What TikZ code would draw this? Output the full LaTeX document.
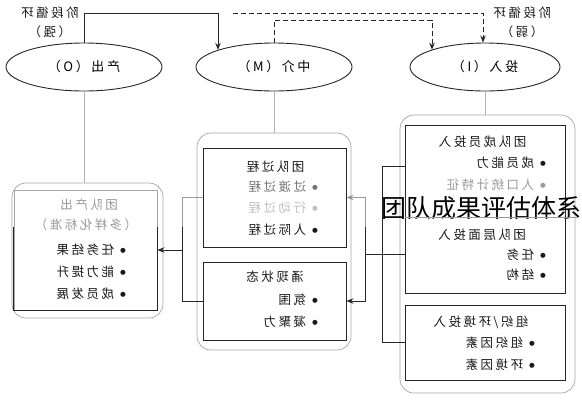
\documentclass[tikz,border=0pt]{standalone}
\usepackage{fontspec}
\usepackage{graphicx}
\usetikzlibrary{shapes.geometric,arrows.meta,calc}
\newfontfamily\cjk[LetterSpace=20]{Noto Sans CJK SC}
\newfontfamily\cjkov{Noto Sans CJK SC}
\newfontfamily\djvfont{DejaVu Sans}
\newcommand{\rt}[1]{\reflectbox{#1}}
\newcommand{\bl}{\raisebox{2.2pt}{\djvfont\fontsize{6.5}{7}\selectfont ●}\hspace{6pt}}
\tikzset{
 dk/.style={draw=black!85, line width=0.9pt},
 inbox/.style={dk, rectangle, inner sep=0pt},
 grp/.style={draw=black!35, line width=0.7pt, rounded corners=14pt, inner sep=0pt},
 oval/.style={ellipse, draw=black!85, line width=0.9pt, minimum width=156pt, minimum height=48pt, inner sep=0pt, font=\cjk\fontsize{13}{15}\selectfont},
 tx/.style={inner sep=0pt, font=\cjk\fontsize{12.5}{14}\selectfont, text=black!90},
 ltx/.style={tx, text=black!40},
 vltx/.style={tx, text=black!25},
 mltx/.style={tx, text=black!55},
 gl/.style={draw=black!30, line width=0.6pt},
 arr/.style={-{Stealth[length=7pt,width=5.5pt]}},
 dsh/.style={dash pattern=on 5pt off 3pt},
}
\begin{document}
\begin{tikzpicture}[x=1pt,y=-1pt]
\useasboundingbox[fill=white] (0,0) rectangle (582,400);
% ellipses
\node[oval] (O) at (84,67) {\rt{产出（O）}};
\node[oval] (M) at (274,67) {\rt{中介（M）}};
\node[oval, minimum width=150pt] (I) at (485,67) {\rt{投入（I）}};
% cycle labels
\node[tx] (s1) at (50,13) {\rt{阶段循环}};
\node[tx] (s2) at (50,32) {\rt{（强）}};
\node[tx] (w1) at (522,13) {\rt{阶段循环}};
\node[tx] (w2) at (522,32) {\rt{（弱）}};
% groups
\node[grp, minimum width=151pt, minimum height=135pt] (Lg) at (87.5,250.5) {};
\node[inbox, draw=black!35, minimum width=143pt, minimum height=120pt] (Lin) at (85.5,250) {};
\draw[dk] ($(Lin.north west)+(0,37)$) |- (Lin.south east) -- ($(Lin.north east)+(0,37)$);
\node[grp, minimum width=154pt, minimum height=217pt] (Mg) at (274,241.5) {};
\node[inbox, minimum width=143pt, minimum height=99pt] (Mt) at (274.5,197.5) {};
\node[inbox, minimum width=143pt, minimum height=78pt] (Mb) at (274.5,301) {};
\node[grp, minimum width=175pt, minimum height=278pt] (Rg) at (487.5,254) {};
\node[inbox, minimum width=160pt, minimum height=168pt] (Rt) at (485,209) {};
\node[inbox, minimum width=160pt, minimum height=75pt] (Rb) at (485,342.5) {};
% texts left
\node[ltx] (l1) at (89,205) {\rt{团队产出}};
\node[ltx] (l2) at (86,225) {\rt{（多样化标准）}};
\node[tx, anchor=east] (l3) at (126,250) {\rt{\bl 任务结果}};
\node[tx, anchor=east] (l4) at (126,272) {\rt{\bl 能力提升}};
\node[tx, anchor=east] (l5) at (126,294) {\rt{\bl 成员发展}};
% texts middle
\node[tx] (m1) at (275.5,167) {\rt{团队过程}};
\node[mltx, anchor=east] (m2) at (318,187) {\rt{\bl 过渡过程}};
\node[vltx, anchor=east] (m3) at (318,208) {\rt{\bl 行动过程}};
\node[tx, anchor=east] (m4) at (318,230) {\rt{\bl 人际过程}};
\node[tx] (m5) at (275,277) {\rt{涌现状态}};
\node[tx, anchor=east] (m6) at (318,300) {\rt{\bl 氛围}};
\node[tx, anchor=east] (m7) at (318,322) {\rt{\bl 凝聚力}};
% texts right
\node[tx] (r1) at (482.5,142) {\rt{团队成员投入}};
\node[tx, anchor=east] (r2) at (546,163) {\rt{\bl 成员能力}};
\node[ltx, anchor=east] (r3) at (546,185) {\rt{\bl 人口统计特征}};
\node[tx] (r4) at (482,235) {\rt{团队层面投入}};
\node[tx, anchor=east] (r5) at (546,255) {\rt{\bl 任务}};
\node[tx, anchor=east] (r6) at (546,275) {\rt{\bl 结构}};
\node[tx] (r7) at (481,322) {\rt{组织/环境投入}};
\node[tx, anchor=east] (r8) at (535,343) {\rt{\bl 组织因素}};
\node[tx, anchor=east] (r9) at (535,365) {\rt{\bl 环境因素}};
% top connectors
\coordinate (c1) at (218,13);
\draw[dk, arr] (O.north) |- (c1) -- (c1 |- M.163);
\coordinate (c2) at (432,20);
\draw[dk, dsh, arr] (M.north) |- (c2) -- (c2 |- I.162);
\coordinate (d0) at (233,13);
\coordinate (c3) at (483,13);
\draw[dk, dsh, arr] (d0) -- (c3) -- (c3 |- I.north);
% gray verticals
\draw[gl] (O.south) -- (O.south |- Lg.north);
\draw[gl] (M.south) -- (M.south |- Mg.north);
\draw[gl] (I.south) -- (I.south |- Rg.north);
% left bracket
\coordinate (lb1) at ($(Mt.west)+(-20,0)$);
\coordinate (lb2) at ($(lb1)+(0,29)$);
\draw[draw=black!40, line width=0.8pt] (Mt.west) -- (lb1) -- (lb2);
\draw[dk] (lb2) |- (Mb.west);
\draw[dk, arr] (lb1 |- Lin.east) -- (Lin.east);
% right-middle bracket
\coordinate (rb1) at ($(Mt.east)+(19,0)$);
\coordinate (rb2) at ($(rb1)+(0,29)$);
\draw[draw=black!40, line width=0.8pt, arr] (rb2) -- (rb1) -- (Mt.east);
\draw[dk, arr] (rb2) |- (Mb.east);
\coordinate (rj) at ($(rb1)+(0,57)$);
\draw[dk] (rj) -- (rj -| Rt.west);
% right bracket
\coordinate (rt1) at ($(Rt.north west)+(0,42)$);
\draw[dk] (rt1) -- ++(-22,0) |- (Rb.west);
% overlay
\node[inner sep=0pt, font=\cjkov\fontsize{25}{28}\selectfont] (ov) at (481,208) {团队成果评估体系};
\draw[draw=black!40, line width=0.8pt] ($(ov.west)+(24,9)$) -- ($(ov.east)+(-3,9)$);
\end{tikzpicture}
\end{document}
